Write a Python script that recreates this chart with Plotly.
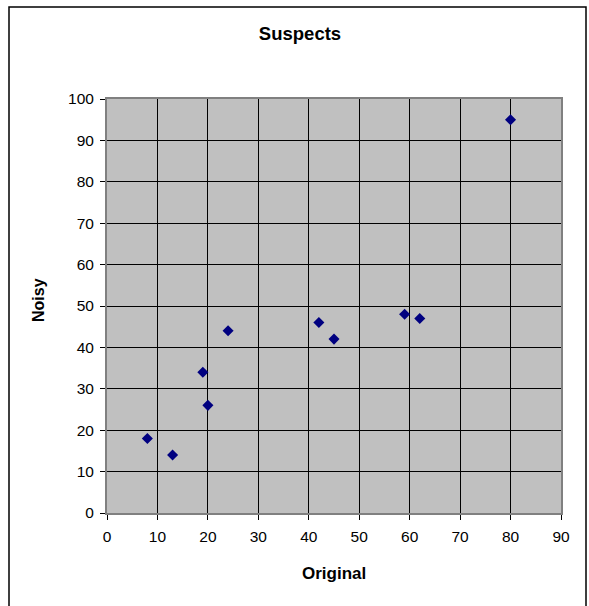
import plotly.graph_objects as go

original = [8, 13, 19, 20, 24, 42, 45, 59, 62, 80]
noisy = [18, 14, 34, 26, 44, 46, 42, 48, 47, 95]
x_ticks = list(range(0, 91, 10))
y_ticks = list(range(0, 101, 10))

W, H = 589, 606
L, R, T, B = 107, 28, 99, 93
pw, ph = W - L - R, H - T - B

def px_x(p):
    return (p - L) / pw

def px_y(p):
    return (H - B - p) / ph

fig = go.Figure()
fig.add_trace(go.Scatter(
    x=original, y=noisy, mode="markers",
    marker=dict(symbol="diamond", size=8.5, color="#000080",
                line=dict(width=0)),
    showlegend=False, hoverinfo="x+y",
))

font = "Liberation Sans, Arial, sans-serif"
fig.update_layout(
    width=W, height=H,
    margin=dict(l=L, r=R, t=T, b=B),
    paper_bgcolor="white",
    plot_bgcolor="#c0c0c0",
    font=dict(family=font, size=15, color="black"),
    title=dict(text="<b>Suspects</b>", x=300 / W, xref="container",
               xanchor="center",
               y=1 - 34 / H, yref="container", yanchor="middle",
               font=dict(family=font, size=18.5, color="black")),
    xaxis=dict(range=[0, 90], tickvals=x_ticks, ticks="outside", ticklen=5,
               tickcolor="#000000", showgrid=True, gridcolor="black",
               gridwidth=1, zeroline=False, showline=True,
               linecolor="#808080", linewidth=2, mirror=True,
               ticklabelstandoff=3,
               tickfont=dict(size=15.5)),
    yaxis=dict(range=[0, 100], tickvals=y_ticks, ticks="outside", ticklen=5,
               tickcolor="#000000", showgrid=True, gridcolor="black",
               gridwidth=1, zeroline=False, showline=True,
               linecolor="#808080", linewidth=2, mirror=True,
               ticklabelstandoff=3,
               tickfont=dict(size=15.5)),
)

# axis titles
fig.add_annotation(text="<b>Original</b>", xref="paper", yref="paper",
                   x=0.5, y=px_y(573), xanchor="center", yanchor="middle",
                   showarrow=False, font=dict(family=font, size=17))
fig.add_annotation(text="<b>Noisy</b>", xref="paper", yref="paper",
                   x=px_x(38), y=px_y(300), xanchor="center", yanchor="middle",
                   textangle=-90, showarrow=False,
                   font=dict(family=font, size=16))

# outer chart border
fig.add_shape(type="rect", xref="paper", yref="paper",
              x0=px_x(9), x1=px_x(586), y0=px_y(612), y1=px_y(7),
              line=dict(color="black", width=1.5), fillcolor="rgba(0,0,0,0)",
              layer="above")

fig.write_html(
    "out.html",
    config={"displayModeBar": False},
    post_script="document.body.style.margin='0';"
                "document.body.style.overflow='hidden';"
                "document.documentElement.style.overflow='hidden';",
)
